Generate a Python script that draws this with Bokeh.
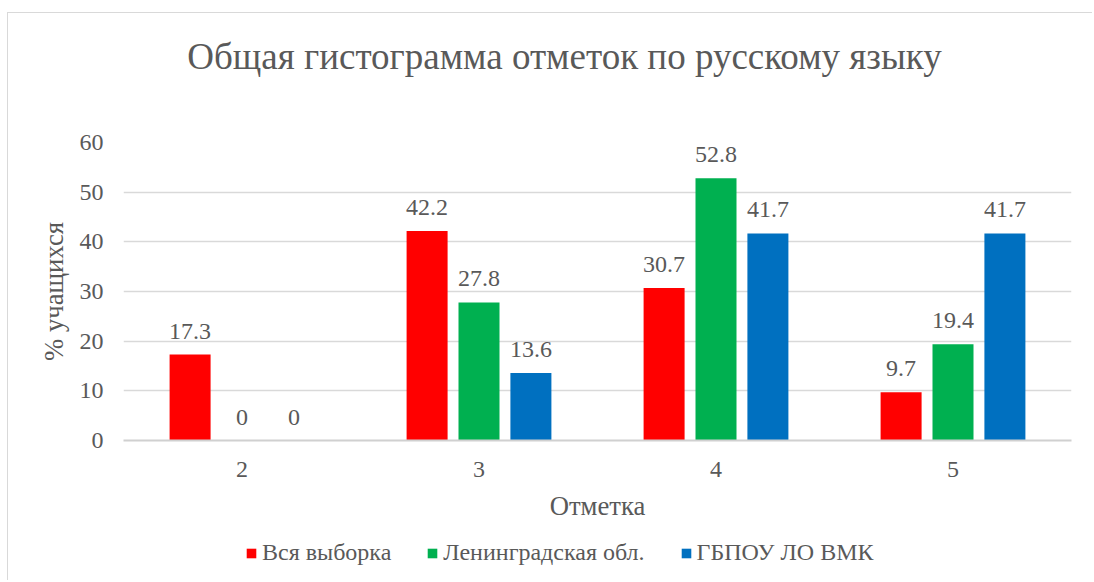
from bokeh.plotting import figure
from bokeh.models import (ColumnDataSource, FactorRange, Range1d, LabelSet, Legend,
                          LegendItem, FixedTicker, Label)
from bokeh.layouts import column
from bokeh.transform import dodge
from bokeh.embed import file_html
from bokeh.resources import INLINE

# ---- data ----
categories = ["2", "3", "4", "5"]
series_names = ["Вся выборка", "Ленинградская обл.", "ГБПОУ ЛО ВМК"]
vals_all = [17.3, 42.2, 30.7, 9.7]
vals_len = [0, 27.8, 52.8, 19.4]
vals_vmk = [0, 13.6, 41.7, 41.7]
colors = ["#FF0000", "#00B050", "#0070C0"]
y_ticks = [0, 10, 20, 30, 40, 50, 60]
title_text = "Общая гистограмма отметок по русскому языку"
x_title = "Отметка"
y_title = "% учащихся"

FONT = "Liberation Serif"
TXT = "#595959"
GRID = "#D9D9D9"
BORDER = "1px solid #D9D9D9"
W = 1085
H_TITLE = 90

def fmt(v):
    return f"{v:g}"

# ---- title strip ----
p0 = figure(width=W, height=H_TITLE, output_backend="svg", toolbar_location=None,
            x_axis_type=None, y_axis_type=None,
            x_range=Range1d(0, W), y_range=Range1d(0, H_TITLE), min_border=0)
p0.margin = (12, 0, 0, 7)
p0.styles = {"border-top": BORDER, "border-left": BORDER}
p0.outline_line_color = None
p0.grid.visible = False
p0.add_layout(Label(x=73, y=47, text=title_text, text_align="left",
                    text_baseline="alphabetic", text_font=FONT, text_font_size="37px",
                    text_color=TXT))

# ---- main chart ----
p = figure(width=W, height=430, output_backend="svg", toolbar_location=None,
           x_range=FactorRange(*categories, range_padding=0),
           y_range=Range1d(0, 60),
           min_border_left=115, min_border_right=22, min_border_top=40, min_border_bottom=92)
p.margin = (0, 0, 0, 7)
p.styles = {"border-left": BORDER}
p.outline_line_color = None
p.background_fill_color = "white"
p.border_fill_color = "white"

offsets = [-0.219, 0.0, 0.219]
series = [vals_all, vals_len, vals_vmk]
sources = []
for name, vals, off, col in zip(series_names, series, offsets, colors):
    src = ColumnDataSource(dict(cat=categories, val=vals, lbl=[fmt(v) for v in vals]))
    sources.append(src)
    p.vbar(x=dodge("cat", off, range=p.x_range), top="val", width=0.173, source=src,
           fill_color=col, line_color=None)
    lab = LabelSet(x=dodge("cat", off, range=p.x_range), y="val", text="lbl", source=src,
                   text_align="center", text_baseline="alphabetic", y_offset=16,
                   text_font=FONT, text_font_size="24px", text_color=TXT)
    p.add_layout(lab)

p.yaxis.ticker = FixedTicker(ticks=y_ticks)
p.yaxis.axis_line_color = None
p.yaxis.major_tick_line_color = None
p.yaxis.minor_tick_line_color = None
p.yaxis.major_tick_out = 0
p.yaxis.major_label_standoff = 20
p.yaxis.major_label_text_font = FONT
p.yaxis.major_label_text_font_size = "24px"
p.yaxis.major_label_text_color = TXT
p.yaxis.axis_label = y_title
p.yaxis.axis_label_text_font = FONT
p.yaxis.axis_label_text_font_size = "26.7px"
p.yaxis.axis_label_text_font_style = "normal"
p.yaxis.axis_label_text_color = TXT
p.yaxis.axis_label_standoff = 8

p.xaxis.axis_line_color = "#D0D0D0"
p.xaxis.axis_line_width = 2
p.xaxis.major_tick_line_color = None
p.xaxis.minor_tick_line_color = None
p.xaxis.major_tick_out = 0
p.xaxis.major_label_standoff = 21
p.xaxis.major_label_text_font = FONT
p.xaxis.major_label_text_font_size = "24px"
p.xaxis.major_label_text_color = TXT
p.xaxis.axis_label = x_title
p.xaxis.axis_label_text_font = FONT
p.xaxis.axis_label_text_font_size = "26.7px"
p.xaxis.axis_label_text_font_style = "normal"
p.xaxis.axis_label_text_color = TXT
p.xaxis.axis_label_standoff = 11

p.xgrid.grid_line_color = None
p.ygrid.grid_line_color = GRID
p.ygrid.grid_line_width = 1.5

# ---- legend strip ----
p2 = figure(width=W, height=48, output_backend="svg", toolbar_location=None,
            x_range=FactorRange(*categories), y_range=Range1d(100, 101), min_border=0)
p2.margin = (0, 0, 0, 7)
p2.styles = {"border-left": BORDER}
p2.outline_line_color = None
p2.axis.visible = False
p2.grid.visible = False
items = []
for name, col, src in zip(series_names, colors, sources):
    # bars lie below the visible y-range: only their legend swatches show
    r = p2.vbar(x="cat", top="val", bottom=0, width=0.1, source=src,
                fill_color=col, line_color=None)
    items.append(LegendItem(label=name, renderers=[r]))
legend = Legend(items=items, orientation="horizontal", location=(122, 14),
                glyph_width=12, glyph_height=12, label_standoff=5, spacing=35,
                label_text_font=FONT, label_text_font_size="24px", label_text_color=TXT,
                border_line_color=None, background_fill_alpha=0, padding=4, margin=0)
p2.add_layout(legend)

layout = column(p0, p, p2, spacing=0)
open("out.html", "w").write(file_html(layout, INLINE))
